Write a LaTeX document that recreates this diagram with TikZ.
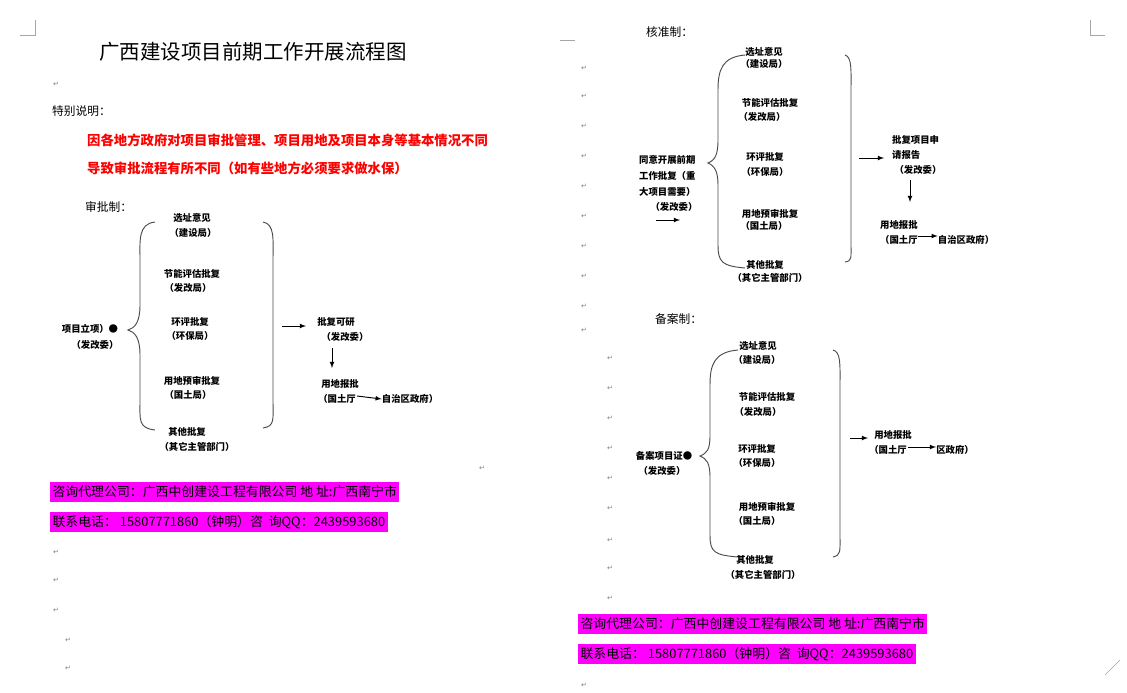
\documentclass[tikz,border=0pt]{standalone}
\usepackage{fontspec}
\setmainfont{Noto Sans CJK SC}
\newfontfamily\dv{DejaVu Sans}
\definecolor{mg}{RGB}{255,0,255}
\begin{document}
\begin{tikzpicture}[x=0.03cm,y=-0.03cm,
  lab/.style={font=\fontsize{8}{9}\selectfont\bfseries,inner sep=0pt},
  nrm/.style={font=\fontsize{10}{12}\selectfont,inner sep=0pt,anchor=west},
  redt/.style={font=\fontsize{11.4}{13}\selectfont\bfseries,text=red,inner sep=0pt,anchor=west},
  mag/.style={fill=mg,font=\fontsize{11}{12}\selectfont,inner sep=2pt,anchor=west,minimum height=20*0.03cm},
  arr/.style={-latex,thick},
  br/.style={thick,black!70},
  rt/.style={font=\dv\fontsize{6}{6}\selectfont,text=gray,inner sep=0pt},
  cmark/.style={gray!70}]
\fill[white] (0,0) rectangle (1127,692);
\useasboundingbox (0,0) rectangle (1127,692);
% page corner marks
\draw[cmark] (35,20)--(35,35)--(20,35);
\draw[cmark] (1090,20)--(1090,35)--(1105,35);
\draw[cmark] (560,40)--(575,40);
\draw[cmark] (1105,675)--(1120,660);
% title etc
\node[font=\fontsize{17.5}{19}\selectfont,inner sep=0pt] (title) at (253,52) {广西建设项目前期工作开展流程图};
\node[nrm] (ts) at (52,111) {特别说明：};
\node[redt] (r1) at (87,140) {因各地方政府对项目审批管理、项目用地及项目本身等基本情况不同};
\node[redt] (r2) at (87,168) {导致审批流程有所不同（如有些地方必须要求做水保）};
% ===== 审批制
\node[nrm] (h1) at (85,207) {审批制：};
\node[lab] (a1) at (192,218) {选址意见};
\node[lab] (a1b) at (193,233) {（建设局）};
\node[lab] (a2) at (192,274) {节能评估批复};
\node[lab] (a2b) at (188,288) {（发改局）};
\node[lab] (a3) at (190,322) {环评批复};
\node[lab] (a3b) at (190,336) {（环保局）};
\node[lab] (a4) at (192,381) {用地预审批复};
\node[lab] (a4b) at (188,395) {（国土局）};
\node[lab] (a5) at (187,432) {其他批复};
\node[lab] (a5b) at (197,447) {（其它主管部门）};
\node[lab] (s0) at (90,329) {项目立项）●};
\node[lab] (s0b) at (95,345) {（发改委）};
\draw[br] (155,222) .. controls (138,224) and (140,240) .. (140,260) -- (140,305) .. controls (140,322) and (135,328) .. (128,330)
  .. controls (135,332) and (140,338) .. (140,355) -- (140,400) .. controls (140,420) and (138,428) .. (155,430);
\draw[br] (263,222) .. controls (275,224) and (273,240) .. (273,260) -- (273,400) .. controls (273,420) and (275,426) .. (263,428);
\coordinate (p1) at (282,326); \coordinate (p2) at (306,326);
\draw[arr] (p1)--(p2);
\node[lab] (b1) at (336,322) {批复可研};
\node[lab] (b1b) at (345,337) {（发改委）};
\node[lab] (c1) at (340,384) {用地报批};
\node[lab] (c1b) at (337,399) {（国土厅};
\node[lab] (d1) at (410,399) {自治区政府）};
\coordinate (q1) at (332,348); \coordinate (q2) at (332,368);
\draw[arr] (q1)--(q2);
\coordinate (q3) at (357,396);
\draw[arr] (q3)--(d1.west);
% ===== contacts left
\node[mag] (m1) at (50,492) {咨询代理公司：广西中创建设工程有限公司\ 地\ 址:广西南宁市};
\node[mag] (m2) at (50,522) {联系电话：\ 15807771860（钟明）咨\ \ 询QQ：2439593680};
% ===== 核准制
\node[nrm] (h2) at (646,32) {核准制：};
\node[lab] (e1) at (764,52) {选址意见};
\node[lab] (e1b) at (764,64) {（建设局）};
\node[lab] (e2) at (770,103) {节能评估批复};
\node[lab] (e2b) at (762,117) {（发改局）};
\node[lab] (e3) at (765,157) {环评批复};
\node[lab] (e3b) at (765,172) {（环保局）};
\node[lab] (e4) at (770,214) {用地预审批复};
\node[lab] (e4b) at (764,226) {（国土局）};
\node[lab] (e5) at (765,265) {其他批复};
\node[lab] (e5b) at (770,278) {（其它主管部门）};
\node[lab,anchor=west] (f1) at (639,160) {同意开展前期};
\node[lab,anchor=west] (f2) at (639,176) {工作批复（重};
\node[lab,anchor=west] (f3) at (639,192) {大项目需要）};
\node[lab] (f4) at (674,207) {（发改委）};
\coordinate (g1) at (656,220); \coordinate (g2) at (680,220);
\draw[arr] (g1)--(g2);
\draw[br] (745,55) .. controls (722,57) and (718,70) .. (718,90) -- (718,140) .. controls (718,155) and (715,160) .. (708,163)
  .. controls (715,166) and (718,172) .. (718,185) -- (718,245) .. controls (718,262) and (722,266) .. (745,268);
\draw[br] (845,55) .. controls (852,57) and (851,70) .. (851,90) -- (851,245) .. controls (851,258) and (852,261) .. (845,262);
\coordinate (g3) at (859,158); \coordinate (g4) at (884,158);
\draw[arr] (g3)--(g4);
\node[lab,anchor=west] (k1) at (892,140) {批复项目申};
\node[lab,anchor=west] (k2) at (892,155) {请报告};
\node[lab] (k3) at (918,170) {（发改委）};
\coordinate (g5) at (910,180); \coordinate (g6) at (910,202);
\draw[arr] (g5)--(g6);
\node[lab,anchor=west] (k4) at (880,225) {用地报批};
\node[lab,anchor=west] (k5) at (880,240) {（国土厅};
\node[lab] (k6) at (966,240) {自治区政府）};
\coordinate (g7) at (918,236);
\draw[arr] (g7)--(k6.west |- g7);
% ===== 备案制
\node[nrm] (h3) at (655,319) {备案制：};
\node[lab] (n1) at (758,346) {选址意见};
\node[lab] (n1b) at (757,360) {（建设局）};
\node[lab] (n2) at (767,397) {节能评估批复};
\node[lab] (n2b) at (758,412) {（发改局）};
\node[lab] (n3) at (757,449) {环评批复};
\node[lab] (n3b) at (757,463) {（环保局）};
\node[lab] (n4) at (767,507) {用地预审批复};
\node[lab] (n4b) at (757,521) {（国土局）};
\node[lab] (n5) at (755,560) {其他批复};
\node[lab] (n5b) at (763,575) {（其它主管部门）};
\node[lab] (o1) at (664,456) {备案项目证●};
\node[lab] (o1b) at (662,471) {（发改委）};
\draw[br] (738,350) .. controls (714,352) and (710,365) .. (710,385) -- (710,435) .. controls (710,450) and (707,453) .. (700,456)
  .. controls (707,459) and (710,463) .. (710,478) -- (710,535) .. controls (710,552) and (714,555) .. (738,557);
\draw[br] (833,350) .. controls (841,352) and (840,365) .. (840,385) -- (840,535) .. controls (840,552) and (841,555) .. (833,557);
\coordinate (o2) at (850,438); \coordinate (o3) at (868,438);
\draw[arr] (o2)--(o3);
\node[lab] (u1) at (893,435) {用地报批};
\node[lab] (u2) at (888,450) {（国土厅};
\node[lab] (u3) at (955,450) {区政府）};
\coordinate (o4) at (908,447);
\draw[arr] (o4)--(u3.west |- o4);
% ===== contacts right
\node[mag] (m3) at (578,624) {咨询代理公司：广西中创建设工程有限公司\ 地\ 址:广西南宁市};
\node[mag] (m4) at (578,654) {联系电话：\ 15807771860（钟明）咨\ \ 询QQ：2439593680};
% return marks
\foreach \y in {84,552,580,610} \node[rt] at (56,\y) {↵};
\foreach \y in {640,668} \node[rt] at (68,\y) {↵};
\foreach \y in {68,96,126,156,186,216,246,276,306,330} \node[rt] at (584,\y) {↵};
\foreach \y in {358,388,418,448,478,508,540,568,598} \node[rt] at (610,\y) {↵};
\node[rt] at (584,685) {↵};
\node[rt] at (482,468) {↵};
\end{tikzpicture}
\end{document}
